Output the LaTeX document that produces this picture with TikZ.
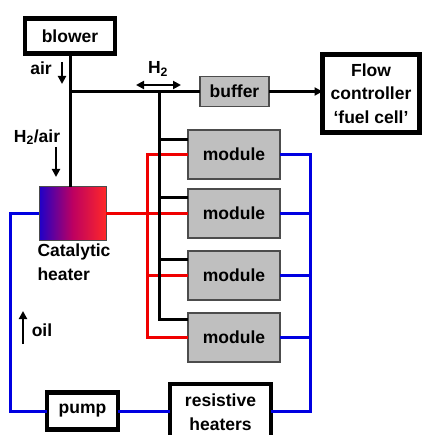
\documentclass[tikz,border=0pt]{standalone}
\usepackage{fontspec}
\setmainfont{Liberation Sans}
\usetikzlibrary{arrows.meta}
\definecolor{wblue}{RGB}{0,0,225}
\definecolor{wred}{RGB}{240,0,0}
\definecolor{hblue}{RGB}{30,0,200}
\definecolor{hred}{RGB}{255,40,40}
\begin{document}
\begin{tikzpicture}[x=1pt,y=-1pt,
  every node/.style={font=\fontsize{17.5}{23.5}\selectfont\bfseries, inner sep=0pt, outer sep=0pt},
  thickbox/.style={draw=black, line width=4.5pt, fill=white, align=center},
  graybox/.style={draw=black!70, fill=black!25, line width=1.3pt, minimum width=92pt, minimum height=49pt},
  wire/.style={line width=3pt},
  bwire/.style={line width=3pt, draw=wblue},
  rwire/.style={line width=3pt, draw=wred},
  flowarrow/.style={line width=2.2pt, -{Triangle[length=8pt,width=8pt]}},
  lbl/.style={anchor=center}
]
\clip (0,0) rectangle (424,435);
\fill[white] (0,0) rectangle (424,435);

% nodes
\node[thickbox, minimum width=90pt, minimum height=35pt] (blower) at (70,36) {blower};
\node[draw=black!70, fill=black!25, line width=1.3pt, minimum width=69pt, minimum height=30pt] (buffer) at (234.5,91.5) {buffer};
\node[thickbox, line width=5pt, minimum width=97pt, minimum height=78pt] (flow) at (371,93.5) {Flow\\controller\\‘fuel cell’};
\node[graybox] (m1) at (234,154.5) {module};
\node[graybox] (m2) at (234,213.5) {module};
\node[graybox] (m3) at (234,275.5) {module};
\node[graybox] (m4) at (234,337.5) {module};
\node[draw=black!70, line width=1pt, left color=hblue, right color=hred, middle color=black!10!purple!80!magenta, minimum width=67pt, minimum height=53pt] (heater) at (72.5,213.5) {};
\node[thickbox, minimum width=71pt, minimum height=37pt] (pump) at (82.5,411) {pump};
\node[thickbox, minimum width=101pt, minimum height=56pt] (res) at (220.5,412) {resistive\\heaters};

% coordinates
\coordinate (j1) at (70,91.5);
\coordinate (bus) at (159,91.5);
\coordinate (rx) at (147,0);
\coordinate (bx) at (310,0);
\coordinate (bl) at (10,0);
\coordinate (by) at (0,411);
\path ([yshift=15pt]m1.west) coordinate (b1);
\path ([yshift=15.5pt]m2.west) coordinate (b2);
\path ([yshift=16.5pt]m3.west) coordinate (b3);
\path ([yshift=18.5pt]m4.west) coordinate (b4);

% red wires
\draw[rwire] (m1.west) -- (m1.west -| rx) -- (m4.west -| rx) -- (m4.west);
\draw[rwire] (heater.east) -- (m2.west);
\draw[rwire] (m3.west) -- (m3.west -| rx);

% black wires
\draw[wire] (blower.south) -- (blower.south |- heater.north);
\draw[wire] (j1) -- (buffer.west);
\draw[wire] (bus) -- (bus |- b4) -- (b4);
\draw[wire] (b1) -- (b1 -| bus);
\draw[wire] (b2) -- (b2 -| bus);
\draw[wire] (b3) -- (b3 -| bus);
\draw[flowarrow] (buffer.east) -- (buffer.east -| flow.west);

% blue wires
\draw[bwire] (m1.east) -- (m1.east -| bx) -- (by -| bx) -- (by -| res.east);
\draw[bwire] (m2.east) -- (m2.east -| bx);
\draw[bwire] (m3.east) -- (m3.east -| bx);
\draw[bwire] (m4.east) -- (m4.east -| bx);
\draw[bwire] (heater.west) -- (heater.west -| bl) -- (pump.west -| bl) -- (pump.west);
\draw[bwire] (pump.east) -- (pump.east -| res.west);

% labels
\node[lbl] (airl) at (41,68) {air};
\coordinate (aira) at (62,62);
\coordinate (airb) at (62,84);
\draw[flowarrow] (aira) -- (airb);

\node[lbl] (h2air) at (37,137) {H\textsubscript{2}/air};
\coordinate (hA) at (56,147);
\coordinate (hB) at (56,177);
\draw[flowarrow] (hA) -- (hB);

\node[lbl] (h2) at (158,69) {H\textsubscript{2}};
\coordinate (dA) at (136,85);
\coordinate (dB) at (181,85);
\draw[line width=2.2pt, {Triangle[length=8pt,width=8pt]}-{Triangle[length=8pt,width=8pt]}] (dA) -- (dB);

\node[anchor=base west, align=left] (catl) at (37.5,280) {Catalytic\\heater};

\node[lbl] (oill) at (42,330) {oil};
\coordinate (oA) at (23,344);
\coordinate (oB) at (23,311);
\draw[flowarrow] (oA) -- (oB);
\end{tikzpicture}
\end{document}
